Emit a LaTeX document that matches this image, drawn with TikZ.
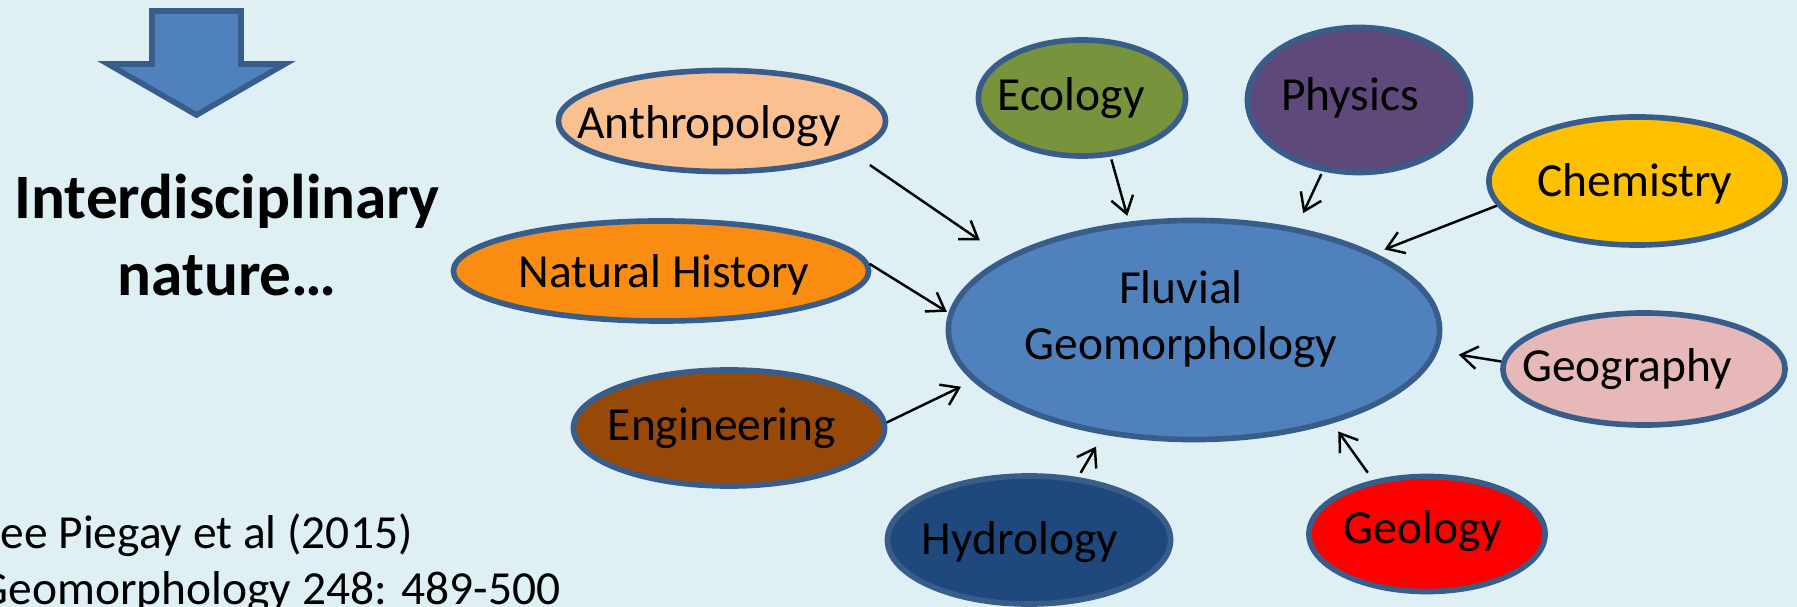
\documentclass[tikz,border=0pt]{standalone}
\usepackage{fontspec}
\setmainfont{Carlito}
\usetikzlibrary{shapes.geometric,arrows.meta}

\definecolor{bgblue}{HTML}{DFF0F5}
\definecolor{edgeblue}{HTML}{385D8A}
\definecolor{fluvialcol}{HTML}{4F81BD}
\definecolor{anthrocol}{HTML}{FAC090}
\definecolor{ecologycol}{HTML}{77933C}
\definecolor{physicscol}{HTML}{5F497A}
\definecolor{chemcol}{HTML}{FFC000}
\definecolor{nathistcol}{HTML}{FA8C12}
\definecolor{engincol}{HTML}{984807}
\definecolor{geogcol}{HTML}{E6B9B8}
\definecolor{hydrocol}{HTML}{1F497D}
\definecolor{geologycol}{HTML}{FF0000}

\begin{document}
\begin{tikzpicture}[x=0.01cm, y=-0.01cm,
    >={Straight Barb[length=4.7pt,width=6.4pt]},
    field/.style={ellipse, draw=edgeblue, line width=1.6pt, inner sep=0pt},
    every label/.style={font=\fontsize{13.5}{16}\selectfont, align=center},
    feed/.style={->, line width=0.7pt}]
\useasboundingbox (0,0) rectangle (1797,607);
\clip (0,0) rectangle (1797,607);
\fill[bgblue] (0,0) rectangle (1797,607);

% Down arrow
\draw[fill=fluvialcol, draw=edgeblue, line width=1.6pt]
    (152,11) -- (241,11) -- (241,64) -- (285,64) -- (196.5,115) -- (108,64) -- (152,64) -- cycle;

% Title
\node[font=\fontsize{18}{21.9}\selectfont\bfseries, align=center] (title) at (227,235) {Interdisciplinary\\nature\ldots};

% Reference
\node[font=\fontsize{13.5}{16}\selectfont, align=left, anchor=north west, inner sep=0pt] (source) at (-22,513)
    {See Piegay et al (2015)\\Geomorphology 248: 489-500};

% Central topic
\node[field, fill=fluvialcol, minimum width=4.91cm, minimum height=2.19cm,
    label={[xshift=-0.13cm, yshift=0.11cm]center:{Fluvial\\Geomorphology}}] (fluvial) at (1194,330) {};

% Disciplines
\node[field, fill=anthrocol, minimum width=3.27cm, minimum height=1.01cm,
    label={[xshift=-0.13cm, yshift=-0.05cm]center:Anthropology}] (anthro) at (722,121) {};
\node[field, fill=nathistcol, minimum width=4.15cm, minimum height=1.00cm,
    label={[xshift=0.03cm, yshift=-0.04cm]center:Natural History}] (nathist) at (661,271) {};
\node[field, fill=engincol, minimum width=3.11cm, minimum height=1.16cm,
    label={[xshift=-0.07cm]center:Engineering}] (engin) at (729,428) {};
\node[field, fill=ecologycol, minimum width=2.07cm, minimum height=1.16cm,
    label={[xshift=-0.11cm]center:Ecology}] (ecology) at (1082,98) {};
\node[field, fill=physicscol, minimum width=2.23cm, minimum height=1.45cm,
    label={[xshift=-0.09cm, yshift=0.02cm]center:Physics}] (physics) at (1359,100) {};
\node[field, fill=chemcol, minimum width=2.96cm, minimum height=1.28cm,
    label={[xshift=-0.02cm, yshift=-0.03cm]center:Chemistry}] (chem) at (1637,181) {};
\node[field, fill=geogcol, minimum width=2.82cm, minimum height=1.12cm,
    label={[xshift=-0.17cm]center:Geography}] (geog) at (1644,369) {};
\node[field, fill=geologycol, minimum width=2.36cm, minimum height=1.15cm,
    label={[xshift=-0.04cm, yshift=0.03cm]center:Geology}] (geology) at (1427,534) {};
\node[field, fill=hydrocol, minimum width=2.83cm, minimum height=1.28cm,
    label={[xshift=-0.09cm, yshift=-0.02cm]center:Hydrology}] (hydro) at (1029,540) {};

% Arrows into the centre
\draw[feed, shorten <=0.2cm, shorten >=0.3cm] (anthro.-14) -- (fluvial.159);
\draw[feed, shorten >=0.02cm] (nathist.2) -- (fluvial.176);
\draw[feed, shorten >=0.13cm] (engin.2) -- (fluvial.193);
\draw[feed, shorten <=0.03cm, shorten >=0.06cm] (ecology.-64) -- (fluvial.121);
\draw[feed, shorten <=0.03cm, shorten >=0.16cm] (physics.243) -- (fluvial.45);
\draw[feed, shorten >=0.1cm] (chem.190) -- (fluvial.23);
\draw[feed, shorten >=0.21cm] (geog.177) -- (fluvial.-5);
\draw[feed, shorten <=0.09cm, shorten >=0.1cm] (geology.135) -- (fluvial.-34.5);
\draw[feed, shorten <=0.05cm, shorten >=0.14cm] (hydro.52) -- (fluvial.229);
\end{tikzpicture}
\end{document}
